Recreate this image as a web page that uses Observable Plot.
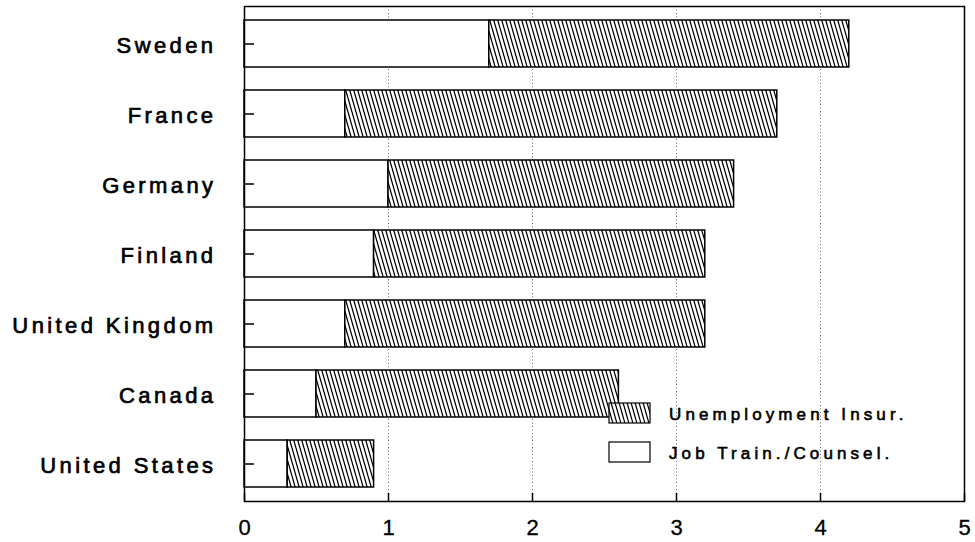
<!DOCTYPE html>
<html><head><meta charset="utf-8">
<script src="https://cdn.jsdelivr.net/npm/d3@7"></script>
<script src="https://cdn.jsdelivr.net/npm/@observablehq/plot@0.6"></script>
<style>
html,body{margin:0;padding:0;background:#fff;}
#chart svg{display:block;font-family:"Liberation Sans",Arial,sans-serif;}
</style></head><body><div id="chart"></div>
<script>
const countries = ["Sweden","France","Germany","Finland","United Kingdom","Canada","United States"];
const jobTraining = [1.7,0.7,1.0,0.9,0.7,0.5,0.3];
const unemploymentInsurance = [2.5,3.0,2.4,2.3,2.5,2.1,0.6];
const seriesNames = ["Unemployment Insur.","Job Train./Counsel."];
const xTicks = [0,1,2,3,4,5];
const gridTicks = [1,2,3,4];

const rows = countries.map((c,i)=>({country:c, job:jobTraining[i], unemp:unemploymentInsurance[i]}));

const chart = Plot.plot({
  width:975, height:542,
  marginTop:6, marginBottom:41, marginLeft:244, marginRight:11,
  style:{fontFamily:"'Liberation Sans',Arial,sans-serif", color:"black", background:"white"},
  x:{domain:[0,5], label:null},
  y:{domain:countries, paddingInner:0.335, paddingOuter:0.1675, label:null},
  marks:[
    Plot.ruleX(gridTicks,{stroke:"#666", strokeDasharray:"1,2.5", strokeWidth:1}),
    Plot.barX(rows,{y:"country", x1:()=>0, x2:"job", fill:"white", stroke:"black", strokeWidth:1.5}),
    Plot.barX(rows,{y:"country", x1:"job", x2:d=>d.job+d.unemp, fill:"url(#hatch)", stroke:"black", strokeWidth:1.5}),
    Plot.axisY({tickSize:-10, tickFormat:()=>"", strokeWidth:1.5, label:null}),
    Plot.axisY({tickSize:0, tickPadding:28, fontSize:22, dy:1.5, label:null}),
    Plot.axisX({ticks:xTicks, tickSize:-8, tickFormat:()=>"", strokeWidth:1.5, label:null}),
    Plot.axisX({ticks:xTicks, tickSize:0, tickPadding:18, fontSize:22, tickFormat:d3.format("d"), label:null}),
    Plot.frame({stroke:"black", strokeWidth:1.5})
  ]
});

const svg = d3.select(chart);
const defs = svg.insert("defs",":first-child");
const pat = defs.append("pattern").attr("id","hatch").attr("patternUnits","userSpaceOnUse")
  .attr("width",4).attr("height",14);
pat.append("rect").attr("width",4).attr("height",14).attr("fill","white");
pat.append("path").attr("d","M-4,0L0,14M0,0L4,14M4,0L8,14")
  .attr("stroke","black").attr("stroke-width",1.3).attr("fill","none");

svg.selectAll('g[aria-label="y-axis tick label"] text')
  .style("letter-spacing","3.4px").attr("stroke","black").attr("stroke-width",0.7);
svg.selectAll('g[aria-label="x-axis tick label"] text').attr("stroke","black").attr("stroke-width",0.3);

const leg = svg.append("g").attr("class","legend").attr("text-anchor","start");
const fills = ["url(#hatch)","white"];
const boxY = [403,442];
seriesNames.forEach((name,i)=>{
  leg.append("rect").attr("x",609).attr("y",boxY[i]).attr("width",41).attr("height",20)
    .attr("fill",fills[i]).attr("stroke","black").attr("stroke-width",1.2);
  leg.append("text").attr("x",669).attr("y",boxY[i]+11).attr("dy","0.35em")
    .attr("text-anchor","start")
    .style("font-size","17px").style("letter-spacing","4.1px")
    .attr("stroke","black").attr("stroke-width",0.6)
    .attr("fill","black").text(name);
});

document.getElementById("chart").appendChild(chart);
</script></body></html>
